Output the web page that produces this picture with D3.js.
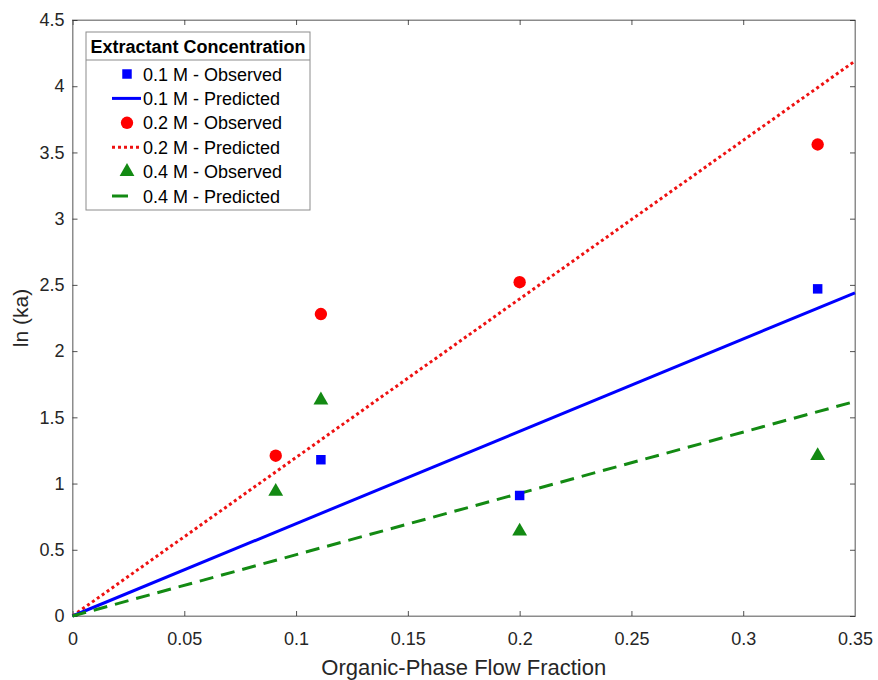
<!DOCTYPE html>
<html>
<head>
<meta charset="utf-8">
<script src="https://cdn.jsdelivr.net/npm/d3@7"></script>
<style>
  body { margin: 0; background: #fff; }
  text { font-family: "Liberation Sans", Arial, sans-serif; }
</style>
</head>
<body>
<div id="chart"></div>
<script>
/* DATA */
var xTicks = [0, 0.05, 0.1, 0.15, 0.2, 0.25, 0.3, 0.35]
var yTicks = [0, 0.5, 1, 1.5, 2, 2.5, 3, 3.5, 4, 4.5]

var obs01x = [0.1111, 0.2, 0.3333]
var obs01y = [1.18, 0.91, 2.47]
var obs02x = [0.0909, 0.1111, 0.2, 0.3333]
var obs02y = [1.21, 2.28, 2.52, 3.56]
var obs04x = [0.0909, 0.1111, 0.2, 0.3333]
var obs04y = [0.94, 1.63, 0.64, 1.21]

var predX = [0, 0.35]
var pred01y = [0, 2.44]
var pred02y = [0, 4.19]
var pred04y = [0, 1.62]

var legendLabels = ['0.1 M - Observed', '0.1 M - Predicted', '0.2 M - Observed',
                    '0.2 M - Predicted', '0.4 M - Observed', '0.4 M - Predicted']

/* SET UP */
var width = 878, height = 680
var margin = { left: 72.5, right: 23, top: 20, bottom: 64 }
var axisColor = '#262626'
var boxColor = '#8c8c8c'

var svg = d3.select('#chart').append('svg')
    .attr('width', width)
    .attr('height', height)

var x = d3.scaleLinear().domain([0, 0.35]).range([margin.left, width - margin.right])
var y = d3.scaleLinear().domain([0, 4.5]).range([height - margin.bottom, margin.top])

// box
svg.append('rect')
    .attr('x', x(0)).attr('y', y(4.5))
    .attr('width', x(0.35) - x(0)).attr('height', y(0) - y(4.5))
    .attr('fill', 'none').attr('stroke', boxColor).attr('stroke-width', 1)

// axes (ticks inside, box on)
var xAxis = svg.append('g').attr('transform', 'translate(0,' + y(0) + ')')
    .call(d3.axisBottom(x).tickValues(xTicks).tickSize(-5).tickPadding(16).tickFormat(d3.format('')))
var xTop = svg.append('g').attr('transform', 'translate(0,' + y(4.5) + ')')
    .call(d3.axisTop(x).tickValues(xTicks).tickSize(-5).tickFormat(''))
var yAxis = svg.append('g').attr('transform', 'translate(' + x(0) + ',0)')
    .call(d3.axisLeft(y).tickValues(yTicks).tickSize(-5).tickPadding(8).tickFormat(d3.format('')))
var yRight = svg.append('g').attr('transform', 'translate(' + x(0.35) + ',0)')
    .call(d3.axisRight(y).tickValues(yTicks).tickSize(-5).tickFormat(''))

;[xAxis, xTop, yAxis, yRight].forEach(function(g) {
    g.select('.domain').attr('stroke', boxColor)
    g.selectAll('.tick line').attr('stroke', axisColor).attr('stroke-width', 0.8)
    g.selectAll('.tick text').attr('fill', axisColor).style('font-size', '18px')
        .style('font-family', '"Liberation Sans", Arial, sans-serif')
})

// axis labels
svg.append('text')
    .attr('x', (x(0) + x(0.35)) / 2).attr('y', 675)
    .attr('text-anchor', 'middle').attr('fill', axisColor)
    .style('font-size', '22px')
    .text('Organic-Phase Flow Fraction')
svg.append('text')
    .attr('transform', 'translate(28,' + ((y(0) + y(4.5)) / 2) + ') rotate(-90)')
    .attr('text-anchor', 'middle').attr('fill', axisColor)
    .style('font-size', '21px')
    .text('ln (ka)')

/* LINES */
var line = d3.line().x(function(d) { return x(d[0]) }).y(function(d) { return y(d[1]) })
var plot = svg.append('g')

function drawLine(ys, color, dash) {
    plot.append('path')
        .datum(predX.map(function(v, i) { return [v, ys[i]] }))
        .attr('d', line)
        .attr('fill', 'none')
        .attr('stroke', color)
        .attr('stroke-width', 3)
        .attr('stroke-dasharray', dash)
}
drawLine(pred02y, '#ee1111', '3,3')
drawLine(pred01y, '#0000ff', null)
drawLine(pred04y, '#138a13', '14,8')

/* MARKERS */
var sqSym = d3.symbol().type(d3.symbolSquare).size(90)
var ciSym = d3.symbol().type(d3.symbolCircle).size(120)
var trSym = d3.symbol().type(d3.symbolTriangle).size(95)

function drawMarkers(xs, ys, sym, color) {
    plot.selectAll(null)
        .data(xs.map(function(v, i) { return [v, ys[i]] }))
        .enter().append('path')
        .attr('d', sym)
        .attr('fill', color)
        .attr('transform', function(d) { return 'translate(' + x(d[0]) + ',' + y(d[1]) + ')' })
}
drawMarkers(obs01x, obs01y, sqSym, '#0000ff')
drawMarkers(obs02x, obs02y, ciSym, '#ff0000')
drawMarkers(obs04x, obs04y, trSym, '#138a13')

/* LEGEND */
var lg = svg.append('g')
var lx = 86, ly = 32, lw = 224, lh = 178
lg.append('rect').attr('x', lx).attr('y', ly).attr('width', lw).attr('height', lh)
    .attr('fill', '#fff').attr('stroke', boxColor).attr('stroke-width', 1)
lg.append('line').attr('x1', lx).attr('x2', lx + lw).attr('y1', ly + 28).attr('y2', ly + 28)
    .attr('stroke', boxColor)
lg.append('text').attr('x', lx + lw / 2).attr('y', ly + 20.5)
    .attr('text-anchor', 'middle').attr('fill', '#000')
    .style('font-size', '18px').style('font-weight', 'bold')
    .text('Extractant Concentration')

var legendItems = [
    { kind: 'marker', sym: sqSym, color: '#0000ff' },
    { kind: 'line', color: '#0000ff', dash: null },
    { kind: 'marker', sym: ciSym, color: '#ff0000' },
    { kind: 'line', color: '#ee1111', dash: '3,3' },
    { kind: 'marker', sym: trSym, color: '#138a13' },
    { kind: 'line', color: '#138a13', dash: '16,30' }  // only one dash fits in the sample
]
legendItems.forEach(function(it, i) {
    var cy = 74 + i * 24.4
    if (it.kind === 'marker') {
        lg.append('path').attr('d', it.sym).attr('fill', it.color)
            .attr('transform', 'translate(127,' + cy + ')')
    } else {
        lg.append('line').attr('x1', 112).attr('x2', 141).attr('y1', cy).attr('y2', cy)
            .attr('stroke', it.color).attr('stroke-width', 3)
            .attr('stroke-dasharray', it.dash)
    }
    lg.append('text').attr('x', 143).attr('y', cy + 6.5)
        .attr('fill', '#000').style('font-size', '18px')
        .text(legendLabels[i])
})
</script>
</body>
</html>
